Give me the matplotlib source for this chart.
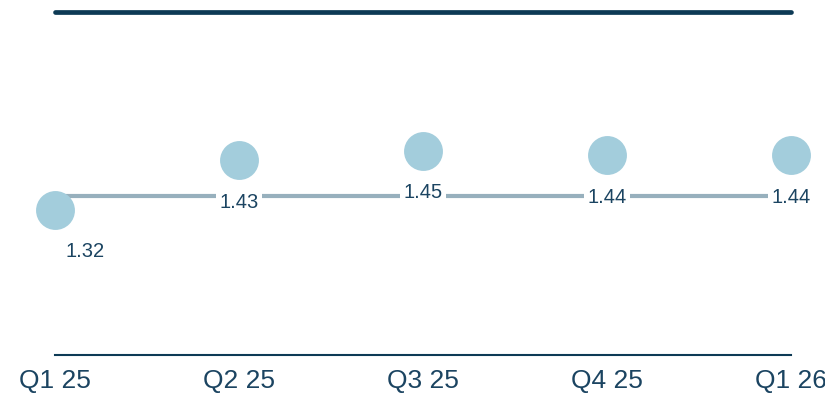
import matplotlib.pyplot as plt

plt.rcParams['font.family'] = ['Liberation Sans', 'DejaVu Sans']

# 季度数据
quarters = ['Q1 25', 'Q2 25', 'Q3 25', 'Q4 25', 'Q1 26']
values = [1.32, 1.43, 1.45, 1.44, 1.44]
reference_level = 1.35

navy = '#0d3a55'
text_color = '#1b4461'
dot_color = '#a3cddc'
ref_color = '#97b0bd'

fig = plt.figure(figsize=(8.25, 3.95), dpi=100)
ax = fig.add_axes([55 / 825, 40 / 395, 736 / 825, 343 / 395])

x = list(range(len(quarters)))

# 参考线
ax.axhline(reference_level, color=ref_color, linewidth=3, zorder=1)

# 数据点
ax.plot(x, values, linestyle='none', marker='o', markersize=28,
        markerfacecolor=dot_color, markeredgecolor='none', zorder=3, clip_on=False)

# 数值标签（第一个向右偏移）
for i, v in enumerate(values):
    dx = 22 if i == 0 else 0
    ax.annotate(f'{v:.2f}', xy=(i, v), xytext=(dx, -30.5), textcoords='offset points',
                ha='center', va='center', fontsize=14.5, color=text_color, zorder=4,
                bbox=dict(boxstyle='square,pad=0.15', facecolor='white', edgecolor='none'))

ax.set_xlim(0, 4)
ax.set_ylim(1.0, 1.755)
ax.set_xticks(x)
ax.set_xticklabels(quarters, fontsize=19, color=text_color)
ax.set_yticks([])
ax.tick_params(axis='x', length=0, pad=10)

for side in ['left', 'right']:
    ax.spines[side].set_visible(False)
ax.spines['top'].set_color(navy)
ax.spines['top'].set_linewidth(3.4)
ax.spines['top'].set_capstyle('round')
ax.spines['bottom'].set_color(navy)
ax.spines['bottom'].set_linewidth(1.5)

fig.savefig('out.png', dpi=100, facecolor='white')
